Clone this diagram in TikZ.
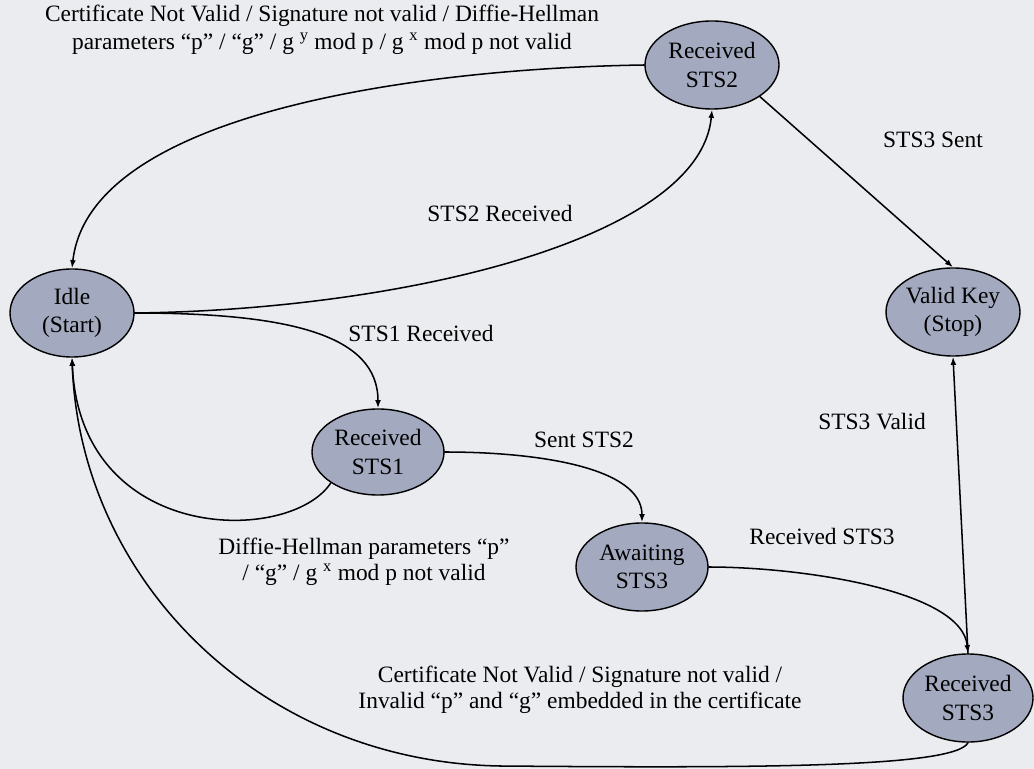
\documentclass[tikz,border=0pt]{standalone}
\usepackage{fontspec}
\setmainfont{Liberation Serif}
\usetikzlibrary{shapes.geometric,arrows.meta}
\definecolor{paper}{RGB}{234,236,240}
\definecolor{stateFill}{RGB}{163,170,191}
\tikzset{state/.style={ellipse,draw=black,line width=1.2pt,fill=stateFill,align=center,inner sep=0pt},
 trans/.style={draw=black,line width=1.3pt,-{Latex[length=7pt,width=5pt]}},
 lbl/.style={align=center,inner sep=1pt},
 tight/.style={font=\fontsize{20}{22}\selectfont},
 every picture/.style={line join=round,line cap=round}}
\begin{document}
\begin{tikzpicture}[x=0.03cm,y=-0.03cm,font=\fontsize{20}{24}\selectfont]
\path[fill=paper] (0,0) rectangle (1034,769);
\node[state,minimum width=3.72cm,minimum height=2.64cm] (idle) at (72,313) {Idle\\(Start)};
\node[state,minimum width=4.02cm,minimum height=2.64cm] (rcvtwo) at (712,65) {Received\\STS2};
\node[state,minimum width=4.02cm,minimum height=2.64cm] (validkey) at (953,312) {Valid Key\\(Stop)};
\node[state,minimum width=3.96cm,minimum height=2.58cm] (rcvone) at (378,452) {Received\\STS1};
\node[state,minimum width=3.96cm,minimum height=2.64cm] (waitthree) at (642,567) {Awaiting\\STS3};
\node[state,minimum width=3.90cm,minimum height=2.64cm] (rcvthree) at (968,698) {Received\\STS3};
\coordinate (dip) at (500,766);
\draw[trans] (rcvtwo.west) .. controls (430,68) and (90,110) .. (idle.north);
\draw[trans] (idle.east) .. controls (400,310) and (700,240) .. (rcvtwo.south);
\draw[trans] (idle.east) .. controls (290,313) and (378,335) .. (rcvone.north);
\draw[trans] (rcvone.south west) .. controls (290,545) and (80,545) .. (idle.south);
\draw[trans] (rcvone.east) .. controls (540,452) and (642,468) .. (waitthree.north);
\draw[trans] (waitthree.east) .. controls (800,567) and (962,590) .. (rcvthree.north);
\draw[trans] (rcvthree.north) -- (validkey.south);
\draw[trans] (rcvtwo.south east) -- (validkey.north);
\draw[trans] (rcvthree.south) .. controls (955,768) and (750,768) .. (dip) .. controls (260,762) and (80,580) .. (idle.south);
\node[lbl] (lbltop) at (322,30) {Certificate Not Valid / Signature not valid / Diffie-Hellman\\parameters “p” / “g” / g \textsuperscript{y} mod p / g \textsuperscript{x} mod p not valid};
\node[lbl] (lblgot2) at (500,213) {STS2 Received};
\node[lbl] (lblsent3) at (933,140) {STS3 Sent};
\node[lbl] (lblgot1) at (421,333) {STS1 Received};
\node[lbl] (lblsent2) at (584,440) {Sent STS2};
\node[lbl] (lblvalid) at (872,422) {STS3 Valid};
\node[lbl] (lblgot3) at (822,536) {Received STS3};
\node[lbl,tight] (lbldh) at (364,562) {Diffie-Hellman parameters “p”\\/ “g” / g \textsuperscript{x} mod p not valid};
\node[lbl,tight] (lblcert) at (580,690) {Certificate Not Valid / Signature not valid /\\Invalid “p” and “g” embedded in the certificate};
\end{tikzpicture}
\end{document}
